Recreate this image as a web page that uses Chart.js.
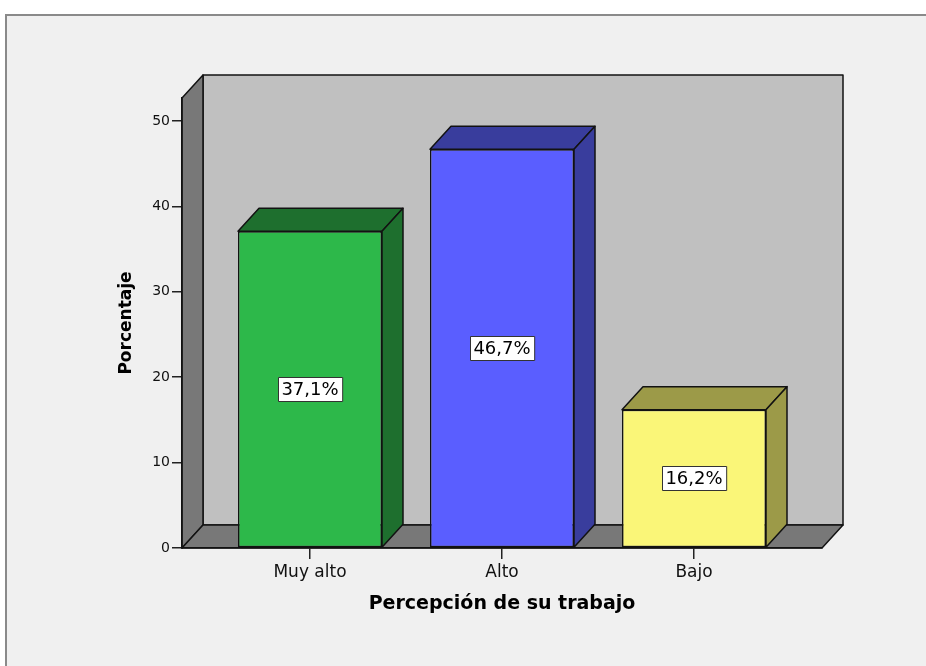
<!DOCTYPE html>
<html>
<head>
<meta charset="utf-8">
<title>Percepción de su trabajo</title>
<script src="https://cdn.jsdelivr.net/npm/chart.js@4/dist/chart.umd.min.js"></script>
<style>
  html, body { margin: 0; padding: 0; background: #ffffff; overflow: hidden; }
  #wrap { width: 926px; height: 666px; }
  canvas { display: block; }
</style>
</head>
<body>
<div id="wrap"><canvas id="chart" width="926" height="666"></canvas></div>
<script>
// ---- data ----
const categories = ['Muy alto', 'Alto', 'Bajo'];
const percentages = [37.1, 46.7, 16.2];
const yTicks = [0, 10, 20, 30, 40, 50];
const xAxisTitle = 'Percepción de su trabajo';
const yAxisTitle = 'Porcentaje';

// ---- styling ----
const frontColors = ['#2db84a', '#5a5eff', '#faf678'];
const shadeColors = ['#1e6f2e', '#393d9d', '#9c9a48'];
const wallBack = '#c0c0c0';
const wallSide = '#787878';
const outline = '#121212';
const lineW = 1.5;
const depth = { dx: 21, dy: -23 };   // 3D extrusion of walls and bars
const xRange = { min: -2 / 3, max: 8 / 3 };
const yRange = { min: 0, max: 52.7 };
const FONT = 'DejaVu Sans';

function formatPct(v) {
  return v.toFixed(1).replace('.', ',') + '%';
}

function poly(ctx, pts, fill) {
  ctx.beginPath();
  ctx.moveTo(pts[0][0], pts[0][1]);
  for (let i = 1; i < pts.length; i++) ctx.lineTo(pts[i][0], pts[i][1]);
  ctx.closePath();
  ctx.fillStyle = fill;
  ctx.fill();
  ctx.lineWidth = lineW;
  ctx.lineJoin = 'round';
  ctx.strokeStyle = outline;
  ctx.stroke();
}

// Panel background, frame and the 3D box (back wall, side wall, floor),
// plus the extruded faces of every bar and its value label.
const box3d = {
  id: 'box3d',
  beforeDraw(chart) {
    const ctx = chart.ctx;
    const { x, y } = chart.scales;
    const { dx, dy } = depth;
    ctx.save();
    ctx.fillStyle = '#ffffff';
    ctx.fillRect(0, 0, chart.width, chart.height);
    ctx.fillStyle = '#8a8a8a';
    ctx.fillRect(5, 14, chart.width + 10, chart.height + 10);
    ctx.fillStyle = '#f0f0f0';
    ctx.fillRect(7, 16, chart.width + 10, chart.height + 10);

    const l = x.getPixelForValue(x.min);
    const r = x.getPixelForValue(x.max);
    const t = y.getPixelForValue(y.max);
    const b = y.getPixelForValue(0);
    // back wall
    poly(ctx, [[l + dx, t + dy], [r + dx, t + dy], [r + dx, b + dy], [l + dx, b + dy]], wallBack);
    // side wall
    poly(ctx, [[l, b], [l, t], [l + dx, t + dy], [l + dx, b + dy]], wallSide);
    // floor
    poly(ctx, [[l, b], [l + dx, b + dy], [r + dx, b + dy], [r, b]], wallSide);
    ctx.restore();
  },
  afterDatasetsDraw(chart) {
    const ctx = chart.ctx;
    const { dx, dy } = depth;
    const meta = chart.getDatasetMeta(0);
    ctx.save();
    meta.data.forEach((bar, i) => {
      const p = bar.getProps(['x', 'y', 'base', 'width'], true);
      const x0 = p.x - p.width / 2;
      const x1 = p.x + p.width / 2;
      const top = p.y;
      const base = p.base;
      // top face
      poly(ctx, [[x0, top], [x0 + dx, top + dy], [x1 + dx, top + dy], [x1, top]], shadeColors[i]);
      // right face
      poly(ctx, [[x1, top], [x1 + dx, top + dy], [x1 + dx, base + dy], [x1, base]], shadeColors[i]);
    });

    // value labels in white boxes, centred on the front face
    ctx.font = '18px "' + FONT + '"';
    ctx.textAlign = 'center';
    ctx.textBaseline = 'middle';
    meta.data.forEach((bar, i) => {
      const p = bar.getProps(['x', 'y', 'base'], true);
      const txt = formatPct(percentages[i]);
      const w = ctx.measureText(txt).width + 7;
      const h = 24;
      const cy = (p.y + p.base) / 2;
      const bx = Math.round(p.x - w / 2) + 0.5;
      const by = Math.round(cy - h / 2) + 0.5;
      ctx.fillStyle = '#ffffff';
      ctx.fillRect(bx, by, w, h);
      ctx.lineWidth = 1;
      ctx.strokeStyle = '#333333';
      ctx.strokeRect(bx, by, w, h);
      ctx.fillStyle = '#000000';
      ctx.fillText(txt, p.x, cy + 1);
    });
    ctx.restore();
  }
};

new Chart(document.getElementById('chart'), {
  type: 'bar',
  data: {
    datasets: [{
      data: percentages.map((v, i) => ({ x: i, y: v })),
      backgroundColor: frontColors,
      borderColor: outline,
      borderWidth: lineW,
      borderSkipped: false,
      barPercentage: 0.75,
      categoryPercentage: 1
    }]
  },
  options: {
    responsive: false,
    animation: false,
    devicePixelRatio: 1,
    layout: { padding: { top: 98, right: 104, bottom: 0, left: 0 } },
    plugins: {
      legend: { display: false },
      tooltip: { enabled: false }
    },
    scales: {
      x: {
        type: 'linear',
        min: xRange.min,
        max: xRange.max,
        offset: false,
        afterBuildTicks: s => { s.ticks = categories.map((_, i) => ({ value: i })); },
        afterFit: s => { s.height = 118; },
        ticks: {
          autoSkip: false,
          maxRotation: 0,
          padding: 3,
          color: '#111111',
          font: { family: FONT, size: 17 },
          callback: v => categories[v]
        },
        grid: { offset: false, drawOnChartArea: false, drawTicks: true, tickLength: 11, color: '#222222', lineWidth: 1.5 },
        border: { display: true, color: outline, width: lineW },
        title: {
          display: true,
          text: xAxisTitle,
          color: '#000000',
          font: { family: FONT, size: 19, weight: 'bold' },
          padding: { top: 0, bottom: 51 }
        }
      },
      y: {
        type: 'linear',
        min: yRange.min,
        max: yRange.max,
        afterBuildTicks: s => { s.ticks = yTicks.map(v => ({ value: v })); },
        afterFit: s => { s.width = 182; },
        ticks: {
          padding: 2,
          color: '#111111',
          font: { family: FONT, size: 14 }
        },
        grid: { drawOnChartArea: false, drawTicks: true, tickLength: 10, color: '#222222', lineWidth: 1.5 },
        border: { display: true, color: outline, width: lineW },
        title: {
          display: true,
          text: yAxisTitle,
          color: '#000000',
          font: { family: FONT, size: 17, weight: 'bold' },
          padding: { top: 116, bottom: 0 }
        }
      }
    }
  },
  plugins: [box3d]
});
</script>
</body>
</html>
